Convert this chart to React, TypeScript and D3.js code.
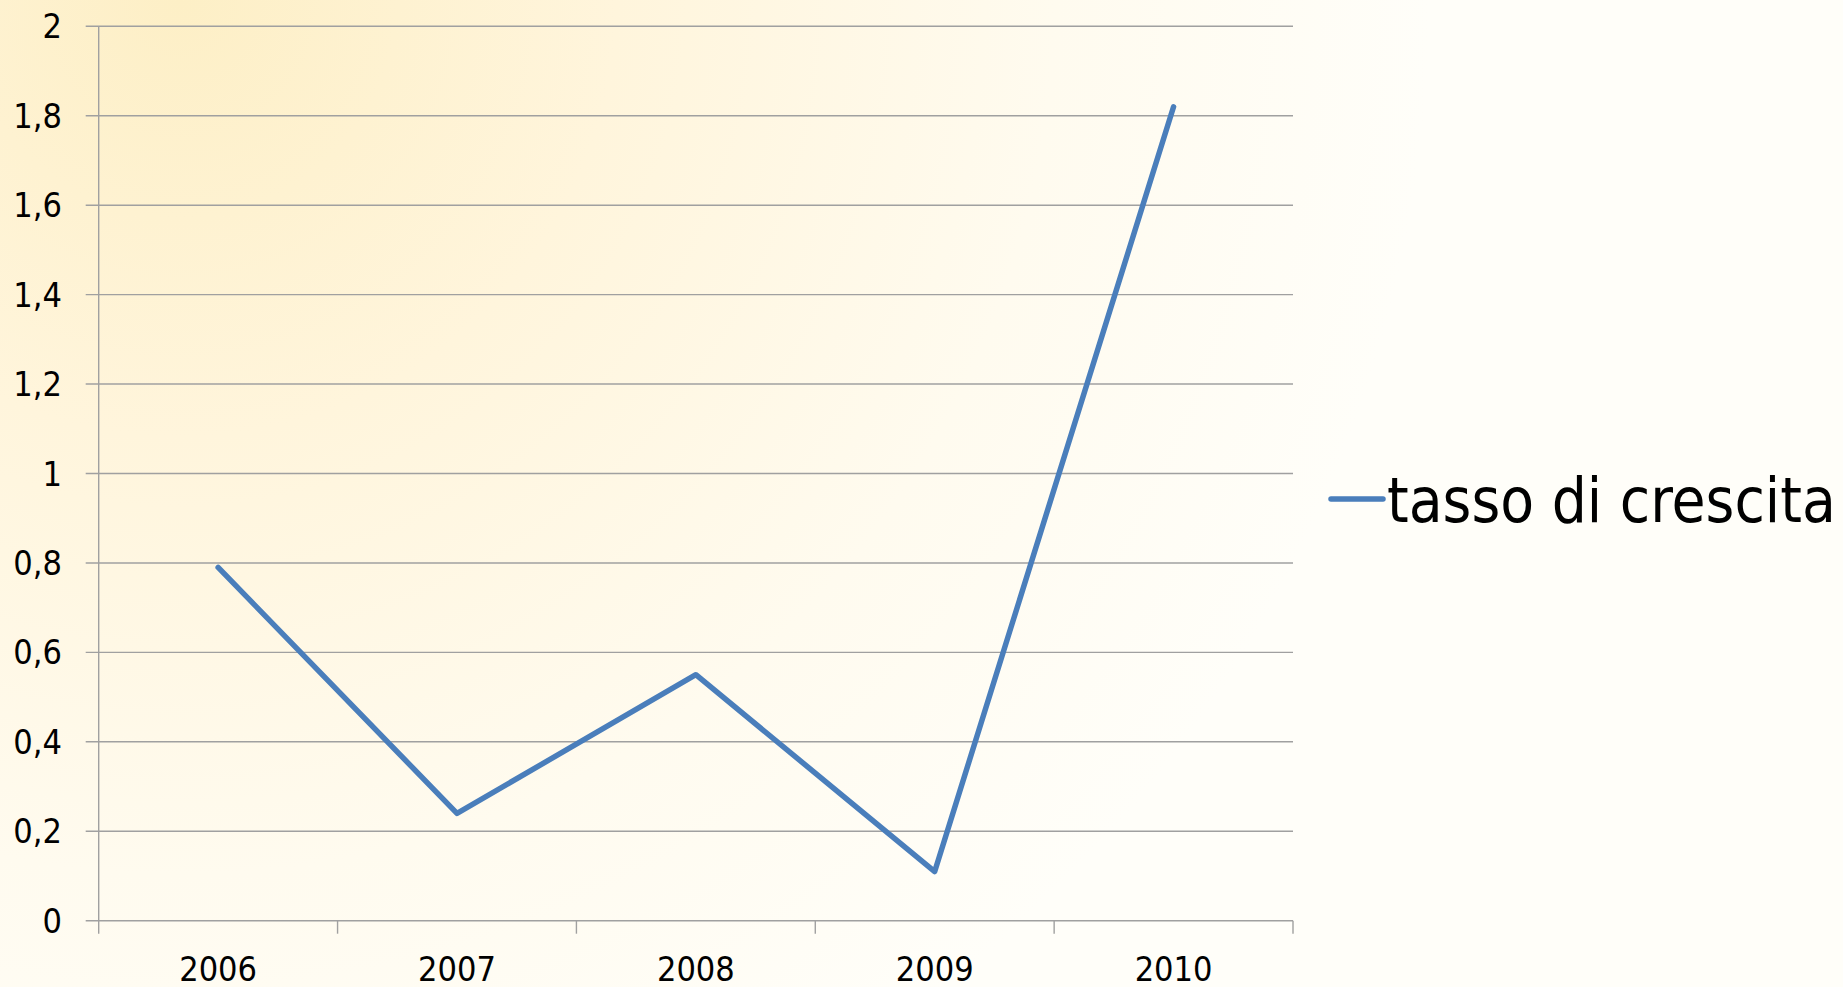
import React, { useEffect, useRef } from 'react';
import * as d3 from 'd3';

const years = ['2006', '2007', '2008', '2009', '2010'];
const tassoDiCrescita = [0.79, 0.24, 0.55, 0.11, 1.82];
const yTicks = [0, 0.2, 0.4, 0.6, 0.8, 1, 1.2, 1.4, 1.6, 1.8, 2];
const seriesName = 'tasso di crescita';

const W = 1843;
const H = 987;
const FONT = '"DejaVu Sans Condensed", "DejaVu Sans", sans-serif';

const App = () => {
  const ref = useRef<SVGSVGElement>(null);

  useEffect(() => {
    const svg = d3.select(ref.current);
    svg.selectAll('*').remove();

    const plot = { left: 98.7, right: 1293, top: 26.3, bottom: 920.7 };

    const defs = svg.append('defs');
    const grad = defs.append('radialGradient')
      .attr('id', 'bg')
      .attr('gradientUnits', 'userSpaceOnUse')
      .attr('cx', 180).attr('cy', 0).attr('r', 1250);
    grad.append('stop').attr('offset', '0%').attr('stop-color', '#fdefc6');
    grad.append('stop').attr('offset', '35%').attr('stop-color', '#fff5dc');
    grad.append('stop').attr('offset', '70%').attr('stop-color', '#fffbef');
    grad.append('stop').attr('offset', '100%').attr('stop-color', '#fffef9');

    svg.append('rect').attr('width', W).attr('height', H).attr('fill', 'url(#bg)');

    const x = d3.scaleBand().domain(years).range([plot.left, plot.right]);
    const y = d3.scaleLinear().domain([0, 2]).range([plot.bottom, plot.top]);

    // horizontal gridlines (with the little tick stubs on the left)
    svg.append('g')
      .selectAll('line')
      .data(yTicks)
      .enter()
      .append('line')
      .attr('x1', plot.left - 13)
      .attr('x2', plot.right)
      .attr('y1', (d) => y(d))
      .attr('y2', (d) => y(d))
      .attr('stroke', '#a0a0a0')
      .attr('stroke-width', 1.4);

    // vertical axis
    svg.append('line')
      .attr('x1', plot.left).attr('x2', plot.left)
      .attr('y1', plot.top).attr('y2', plot.bottom + 13)
      .attr('stroke', '#a0a0a0').attr('stroke-width', 1.4);

    // x tick marks at category boundaries
    const bounds = years.map((d) => x(d) as number).concat([plot.right]);
    svg.append('g')
      .selectAll('line')
      .data(bounds.slice(1))
      .enter()
      .append('line')
      .attr('x1', (d) => d).attr('x2', (d) => d)
      .attr('y1', plot.bottom).attr('y2', plot.bottom + 13)
      .attr('stroke', '#a0a0a0').attr('stroke-width', 1.4);

    const fmt = (v: number) => String(Math.round(v * 10) / 10).replace('.', ',');

    svg.append('g')
      .selectAll('text')
      .data(yTicks)
      .enter()
      .append('text')
      .attr('x', 62)
      .attr('y', (d) => y(d) + 12)
      .attr('text-anchor', 'end')
      .attr('font-family', FONT)
      .attr('font-size', 34)
      .attr('fill', '#000')
      .text(fmt);

    svg.append('g')
      .selectAll('text')
      .data(years)
      .enter()
      .append('text')
      .attr('x', (d) => (x(d) as number) + x.bandwidth() / 2)
      .attr('y', 981)
      .attr('text-anchor', 'middle')
      .attr('font-family', FONT)
      .attr('font-size', 34)
      .attr('fill', '#000')
      .text((d) => d);

    const line = d3.line<number>()
      .x((d, i) => (x(years[i]) as number) + x.bandwidth() / 2)
      .y((d) => y(d));

    svg.append('path')
      .datum(tassoDiCrescita)
      .attr('d', line)
      .attr('fill', 'none')
      .attr('stroke', '#4a7ebb')
      .attr('stroke-width', 5.5)
      .attr('stroke-linejoin', 'round')
      .attr('stroke-linecap', 'round');

    // legend
    const lg = svg.append('g').attr('transform', 'translate(1331,499)');
    lg.append('line')
      .attr('x1', 0).attr('x2', 52)
      .attr('y1', 0).attr('y2', 0)
      .attr('stroke', '#4a7ebb')
      .attr('stroke-width', 5.5)
      .attr('stroke-linecap', 'round');
    lg.append('text')
      .attr('x', 56)
      .attr('y', 22.7)
      .attr('font-family', FONT)
      .attr('font-size', 61.5)
      .attr('fill', '#000')
      .text(seriesName);
  }, []);

  return (
    <svg
      ref={ref}
      width={W}
      height={H}
      style={{ position: 'absolute', left: 0, top: 0, display: 'block' }}
    />
  );
};

export default App;
